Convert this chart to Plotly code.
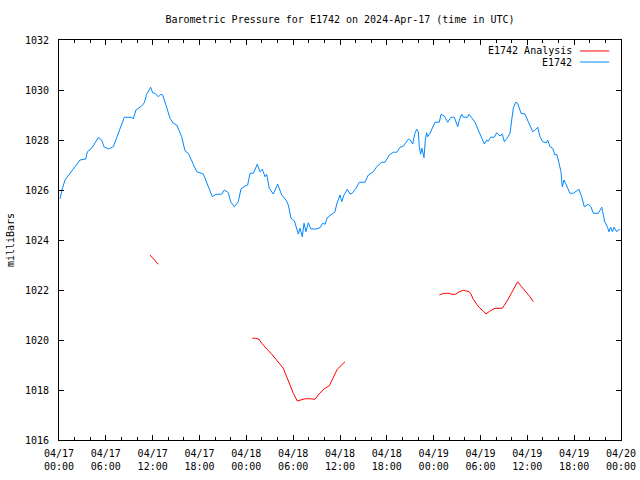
import pandas as pd
import plotly.graph_objects as go

base = pd.Timestamp("2024-04-17 00:00")

# E1742 observed pressure: hours since 2024-04-17 00:00 UTC, millibars
obs_hours = [0.13, 0.38, 0.77, 1.41, 2.05, 2.69, 3.42, 3.63, 4.19, 5.04, 5.47, 5.76, 6.32, 6.6, 6.96,
             7.6, 8.03, 8.37, 9.3, 9.51, 9.86, 10.59, 10.93, 11.23, 11.74, 12.0, 12.3, 12.5, 12.72,
             13.07, 13.28, 13.7, 14.22, 14.64, 15.08, 15.72, 16.14, 16.57, 17.33, 17.64, 18.49,
             19.13, 19.64, 20.11, 20.84, 21.18, 21.69, 22.0, 22.46, 22.97, 23.32, 23.83, 24.17,
             24.47, 24.9, 25.4, 25.75, 26.05, 26.39, 26.6, 26.94, 27.45, 28.02, 28.53, 29.08,
             29.38, 29.72, 30.15, 30.45, 30.66, 30.87, 31.17, 31.39, 31.64, 31.94, 32.28, 32.92,
             33.44, 33.78, 34.08, 34.37, 34.85, 35.36, 35.58, 36.0, 36.22, 36.51, 36.94, 37.28,
             37.57, 38.05, 38.47, 39.2, 39.63, 40.27, 40.7, 41.34, 41.76, 42.32, 42.83, 43.26,
             43.7, 44.1, 44.75, 45.0, 45.31, 45.6, 45.82, 46.03, 46.16, 46.33, 46.5, 46.63, 46.76,
             46.93, 47.1, 47.23, 47.53, 47.95, 48.17, 48.72, 48.94, 49.36, 49.8, 50.22, 50.65,
             51.08, 51.29, 51.59, 51.8, 52.35, 52.52, 52.87, 53.29, 53.72, 54.15, 54.49, 54.79,
             55.0, 55.3, 55.77, 56.07, 56.5, 56.8, 57.05, 57.35, 57.78, 58.0, 58.2, 58.5, 58.76,
             59.19, 59.7, 60.12, 60.69, 61.0, 61.33, 61.63, 61.97, 62.48, 62.6, 62.9, 63.25,
             63.54, 63.76, 63.97, 64.31, 64.48, 64.7, 64.9, 65.12, 65.46, 65.89, 66.32, 66.61,
             66.96, 67.3, 67.81, 68.15, 68.45, 69.09, 69.53, 69.92, 70.25, 70.47, 70.68, 70.9,
             71.1, 71.45, 71.66, 71.88]
obs_values = [1025.64, 1026.0, 1026.4, 1026.67, 1026.96, 1027.2, 1027.24, 1027.53, 1027.67, 1028.1,
              1028.0, 1027.73, 1027.64, 1027.69, 1027.73, 1028.27, 1028.67, 1028.91, 1028.91,
              1028.84, 1029.2, 1029.36, 1029.49, 1029.83, 1030.11, 1029.89, 1029.87, 1029.8,
              1029.73, 1029.83, 1029.8, 1029.4, 1028.87, 1028.67, 1028.6, 1028.13, 1027.57,
              1027.47, 1026.93, 1026.73, 1026.64, 1026.13, 1025.73, 1025.83, 1025.83, 1026.0,
              1025.89, 1025.53, 1025.33, 1025.53, 1026.05, 1026.16, 1026.2, 1026.67, 1026.67,
              1027.03, 1026.73, 1026.83, 1026.53, 1026.63, 1026.07, 1025.84, 1026.23, 1025.8,
              1025.6, 1025.4, 1024.87, 1024.77, 1024.4, 1024.24, 1024.47, 1024.13, 1024.67,
              1024.33, 1024.69, 1024.44, 1024.44, 1024.49, 1024.67, 1024.63, 1024.89, 1025.0,
              1025.13, 1025.44, 1025.8, 1025.53, 1025.8, 1026.03, 1025.84, 1025.87, 1026.07,
              1026.31, 1026.31, 1026.6, 1026.73, 1026.93, 1027.11, 1027.11, 1027.4, 1027.51,
              1027.51, 1027.71, 1027.75, 1028.03, 1028.0, 1027.84, 1028.27, 1028.43, 1028.33,
              1027.73, 1027.43, 1027.67, 1027.53, 1027.29, 1028.0, 1028.29, 1028.13, 1028.27,
              1028.56, 1028.71, 1028.71, 1029.03, 1028.96, 1028.71, 1028.91, 1028.91, 1028.53,
              1028.8, 1029.03, 1028.91, 1028.91, 1029.03, 1028.89, 1028.71, 1028.4, 1028.07,
              1027.84, 1028.0, 1027.95, 1028.11, 1028.11, 1028.29, 1028.16, 1028.23, 1027.93,
              1028.05, 1028.27, 1028.8, 1029.27, 1029.51, 1029.47, 1029.07, 1029.04, 1028.73,
              1028.33, 1028.4, 1028.51, 1028.13, 1027.93, 1027.89, 1028.0, 1027.73, 1027.67,
              1027.4, 1027.43, 1027.2, 1026.73, 1026.13, 1026.4, 1026.27, 1026.09, 1025.87,
              1025.87, 1025.96, 1026.03, 1025.73, 1025.33, 1025.43, 1025.33, 1025.07, 1025.07,
              1025.31, 1024.73, 1024.53, 1024.33, 1024.51, 1024.33, 1024.51, 1024.33, 1024.4,
              1024.43]

# E1742 Analysis: three separate segments (None = gap)
ana_hours = [11.66, 12.2, 12.72, None,
             24.77, 25.2, 25.62, 25.97, 26.61, 27.16, 27.76, 28.4, 28.73, 29.17, 29.59, 30.02,
             30.53, 31.0, 31.51, 32.2, 32.8, 33.31, 34.08, 34.63, 35.14, 35.65, 36.64, None,
             48.72, 49.0, 49.54, 49.95, 50.3, 50.82, 51.28, 51.8, 52.2, 52.56, 52.75, 53.08,
             53.51, 53.93, 54.36, 54.7, 55.21, 55.85, 56.79, 57.35, 57.99, 58.42, 58.76, 59.27,
             59.92, 60.34, 60.76]
ana_values = [1023.4, 1023.2, 1023.03, None,
              1020.07, 1020.07, 1020.03, 1019.87, 1019.64, 1019.47, 1019.24, 1019.0, 1018.87,
              1018.53, 1018.16, 1017.87, 1017.56, 1017.6, 1017.65, 1017.65, 1017.63, 1017.84,
              1018.07, 1018.17, 1018.47, 1018.83, 1019.13, None,
              1021.8, 1021.84, 1021.87, 1021.87, 1021.83, 1021.83, 1021.93, 1021.99, 1021.96,
              1021.93, 1021.85, 1021.63, 1021.43, 1021.27, 1021.16, 1021.04, 1021.16, 1021.27,
              1021.27, 1021.53, 1021.89, 1022.16, 1022.33, 1022.13, 1021.89, 1021.73, 1021.53]

y_ticks = [1016, 1018, 1020, 1022, 1024, 1026, 1028, 1030, 1032]


def to_time(hours):
    return [None if h is None else base + pd.Timedelta(hours=h) for h in hours]


RED = "#ff0000"
BLUE = "#0088ff"
FONT = "DejaVu Sans Mono"

fig = go.Figure()
fig.add_trace(go.Scatter(x=to_time(ana_hours), y=ana_values, mode="lines",
                         line=dict(color=RED, width=1), name="E1742 Analysis",
                         connectgaps=False, showlegend=False))
fig.add_trace(go.Scatter(x=to_time(obs_hours), y=obs_values, mode="lines",
                         line=dict(color=BLUE, width=1), name="E1742", showlegend=False))

# gnuplot-style legend (text right-aligned, sample line to the right)
legend_rows = [("E1742 Analysis", RED, 0.9725), ("E1742", BLUE, 0.945)]
for label, color, yy in legend_rows:
    fig.add_annotation(xref="paper", yref="paper", x=0.917, y=yy, text=label,
                       showarrow=False, xanchor="right", yanchor="middle",
                       font=dict(family=FONT, size=10, color="black"))
    fig.add_shape(type="line", xref="paper", yref="paper", x0=0.927, x1=0.979,
                  y0=yy, y1=yy, line=dict(color=color, width=1))

axis_common = dict(showline=True, linecolor="black", linewidth=1, mirror="ticks",
                   ticks="inside", tickcolor="black", showgrid=False, zeroline=False,
                   automargin=False,
                   tickfont=dict(family=FONT, size=10, color="black"))

fig.update_layout(
    width=640, height=480,
    margin=dict(l=59, r=19, t=40, b=40),
    paper_bgcolor="white", plot_bgcolor="white",
    title=dict(text="Barometric Pressure for E1742 on 2024-Apr-17 (time in UTC)",
               x=0.5, xref="paper", y=1 - 19 / 480, yanchor="middle",
               font=dict(family=FONT, size=10, color="black")),
    xaxis=dict(type="date", range=[base, base + pd.Timedelta(hours=72)],
               tick0=base, dtick=6 * 3600 * 1000, tickformat="%m/%d<br>%H:%M",
               ticklen=5, ticklabelstandoff=4,
               minor=dict(dtick=2 * 3600 * 1000, ticks="inside", ticklen=3, tickcolor="black"),
               **axis_common),
    yaxis=dict(range=[1016, 1032], tickvals=y_ticks, ticklen=5, ticklabelstandoff=7,
               title=dict(text="milliBars", standoff=8,
                          font=dict(family=FONT, size=10, color="black")),
               **axis_common),
)

fig.write_html("out.html", config={"displayModeBar": False},
               post_script="document.body.style.margin='0';document.body.style.overflow='hidden';")
